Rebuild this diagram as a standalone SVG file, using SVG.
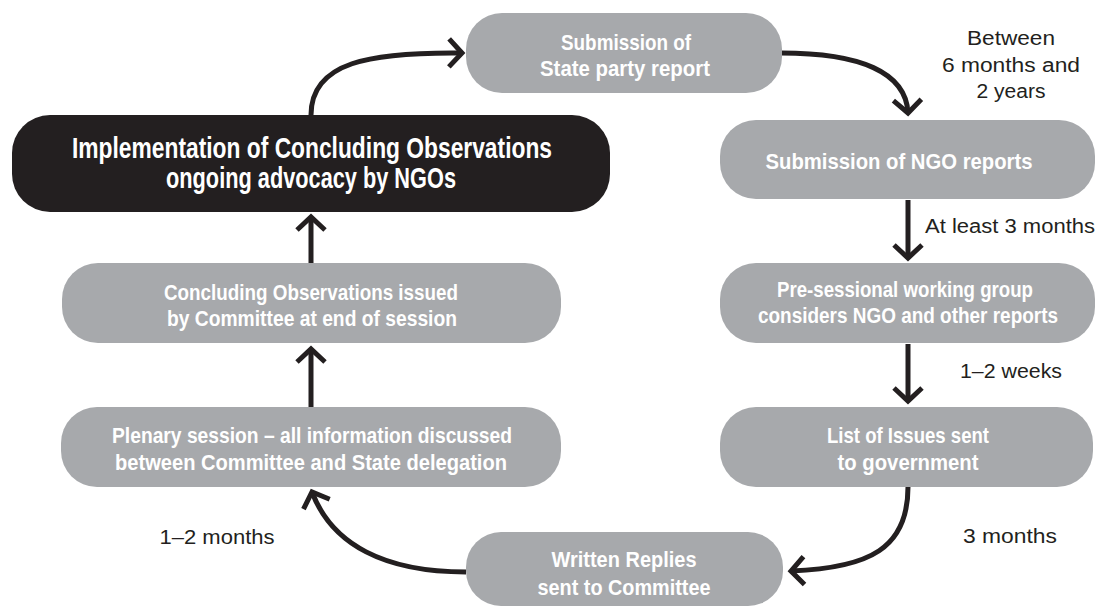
<svg xmlns="http://www.w3.org/2000/svg" width="1099" height="607" viewBox="0 0 1099 607">
<style>
.box{fill:#a7a9ac}
.dark{fill:#231f20}
.nt{font-family:"Liberation Sans Narrow","Liberation Sans",Arial,sans-serif;font-weight:bold;font-size:22px;fill:#ffffff;text-anchor:middle}
.bt{font-size:30px}
.lb{font-family:"Liberation Sans",Arial,sans-serif;font-size:20px;fill:#231f20;text-anchor:middle}
.cn{fill:none;stroke:#231f20;stroke-width:5;marker-end:url(#ah)}
</style>
<defs>
<marker id="ah" markerUnits="userSpaceOnUse" viewBox="-20 -20 40 40" markerWidth="40" markerHeight="40" refX="0" refY="0" orient="auto" overflow="visible">
<path d="M-13,-14 L0,0 L-13,14" fill="none" stroke="#231f20" stroke-width="5" stroke-linejoin="miter"/>
</marker>
</defs>
<rect width="1099" height="607" fill="#ffffff"/>
<g id="connectors">
<path class="cn" d="M311,115 C311,62 370,52 462,53"/>
<path class="cn" d="M781,53 C860,53 906,72 908,113"/>
<path class="cn" d="M908,200 L908,258"/>
<path class="cn" d="M908,344 L908,401"/>
<path class="cn" d="M908,487 C908,548 870,568 791,571"/>
<path class="cn" d="M466,572 C385,572 332,545 312,492"/>
<path class="cn" d="M311,407 L311,349"/>
<path class="cn" d="M311,263 L311,217"/>
</g>
<g id="n-state-report">
<rect class="box" x="466" y="13" width="316" height="80" rx="36"/>
<text class="nt" x="626" y="50" textLength="130" lengthAdjust="spacingAndGlyphs">Submission of</text>
<text class="nt" x="625" y="76" textLength="170" lengthAdjust="spacingAndGlyphs">State party report</text>
</g>
<g id="n-implementation">
<rect class="dark" x="12" y="115" width="598" height="97" rx="38"/>
<text class="nt bt" x="312" y="158" textLength="480" lengthAdjust="spacingAndGlyphs">Implementation of Concluding Observations</text>
<text class="nt bt" x="311" y="188" textLength="290" lengthAdjust="spacingAndGlyphs">ongoing advocacy by NGOs</text>
</g>
<g id="n-ngo-reports">
<rect class="box" x="720" y="120" width="375" height="79" rx="36"/>
<text class="nt" x="899" y="169" textLength="267" lengthAdjust="spacingAndGlyphs">Submission of NGO reports</text>
</g>
<g id="n-presessional">
<rect class="box" x="720" y="263" width="375" height="80" rx="36"/>
<text class="nt" x="905" y="297" textLength="256" lengthAdjust="spacingAndGlyphs">Pre-sessional working group</text>
<text class="nt" x="908" y="323" textLength="300" lengthAdjust="spacingAndGlyphs">considers NGO and other reports</text>
</g>
<g id="n-list-issues">
<rect class="box" x="720" y="407" width="373" height="80" rx="36"/>
<text class="nt" x="908" y="443" textLength="162" lengthAdjust="spacingAndGlyphs">List of Issues sent</text>
<text class="nt" x="908" y="470" textLength="141" lengthAdjust="spacingAndGlyphs">to government</text>
</g>
<g id="n-written-replies">
<rect class="box" x="466" y="532" width="317" height="74" rx="35"/>
<text class="nt" x="624" y="567" textLength="145" lengthAdjust="spacingAndGlyphs">Written Replies</text>
<text class="nt" x="624" y="595" textLength="173" lengthAdjust="spacingAndGlyphs">sent to Committee</text>
</g>
<g id="n-plenary">
<rect class="box" x="61" y="407" width="500" height="80" rx="36"/>
<text class="nt" x="312" y="443" textLength="400" lengthAdjust="spacingAndGlyphs">Plenary session – all information discussed</text>
<text class="nt" x="311" y="470" textLength="392" lengthAdjust="spacingAndGlyphs">between Committee and State delegation</text>
</g>
<g id="n-concluding">
<rect class="box" x="62" y="263" width="499" height="80" rx="36"/>
<text class="nt" x="311" y="300" textLength="294" lengthAdjust="spacingAndGlyphs">Concluding Observations issued</text>
<text class="nt" x="312" y="326" textLength="290" lengthAdjust="spacingAndGlyphs">by Committee at end of session</text>
</g>
<g id="labels">
<text class="lb" x="1011" y="45" textLength="88" lengthAdjust="spacingAndGlyphs">Between</text>
<text class="lb" x="1011" y="72" textLength="138" lengthAdjust="spacingAndGlyphs">6 months and</text>
<text class="lb" x="1011" y="98" textLength="69" lengthAdjust="spacingAndGlyphs">2 years</text>
<text class="lb" x="1010" y="233" textLength="170" lengthAdjust="spacingAndGlyphs">At least 3 months</text>
<text class="lb" x="1011" y="378" textLength="102" lengthAdjust="spacingAndGlyphs">1–2 weeks</text>
<text class="lb" x="1010" y="543" textLength="94" lengthAdjust="spacingAndGlyphs">3 months</text>
<text class="lb" x="217" y="544" textLength="115" lengthAdjust="spacingAndGlyphs">1–2 months</text>
</g>
</svg>
